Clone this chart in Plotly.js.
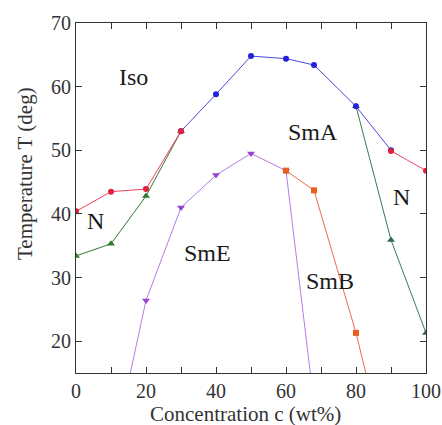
<!DOCTYPE html>
<html>
<head>
<meta charset="utf-8">
<script src="https://cdn.plot.ly/plotly-3.0.1.min.js"></script>
<style>html,body{margin:0;padding:0;background:#fff;}#chart{width:442px;height:425px;}</style>
</head>
<body>
<div id="chart"></div>
<script>
// Iso–SmA boundary (blue)
const isoSmA_x = [30, 40, 50, 60, 68, 80, 90];
const isoSmA_y = [53, 58.8, 64.8, 64.4, 63.4, 56.9, 50];
// Iso–N boundary, left (red)
const isoN_left_x = [0, 10, 20, 30];
const isoN_left_y = [40.4, 43.5, 43.9, 53];
// Iso–N boundary, right (red)
const isoN_right_x = [90, 100];
const isoN_right_y = [49.9, 46.8];
// N–Smectic boundary, left (green)
const nSm_left_x = [0, 10, 20, 30];
const nSm_left_y = [33.4, 35.3, 42.8, 53];
// N–SmA boundary, right (green)
const nSm_right_x = [80, 90, 100];
const nSm_right_y = [56.9, 35.9, 21.3];
// SmE boundary (purple)
const smE_x = [15, 20, 30, 40, 50, 60, 68];
const smE_y = [13.7, 26.4, 41, 46.1, 49.5, 46.8, 10.2];
// SmB boundary (orange)
const smB_x = [60, 68, 80, 85];
const smB_y = [46.8, 43.7, 21.3, 10.1];

const phaseLabels = ['Iso', 'SmA', 'N', 'SmE', 'SmB', 'N'];
const phaseX = [16.4, 67.7, 5.7, 37.7, 72.6, 92.9];
const phaseY = [61.5, 52.9, 38.9, 33.8, 29.4, 42.6];

const xTickVals = [0, 10, 20, 30, 40, 50, 60, 70, 80, 90, 100];
const xTickText = ['0', '', '20', '', '40', '', '60', '', '80', '', '100'];
const yTicks = [20, 30, 40, 50, 60, 70];

const xTitle = 'Concentration c (wt%)';
const yTitle = 'Temperature T (deg)';

function tr(x, y, color, lineColor, symbol, size) {
  return {x: x, y: y, type: 'scatter', mode: 'lines+markers', cliponaxis: true,
    line: {color: lineColor, width: 1}, marker: {color: color, symbol: symbol, size: size}, showlegend: false};
}

const data = [
  tr(nSm_left_x, nSm_left_y, '#2f7a2f', '#2f7a2f', 'triangle-up', 7),
  tr(nSm_right_x, nSm_right_y, '#2f6a4a', '#3a7a5a', 'triangle-up', 7),
  tr(smE_x, smE_y, '#9a44d0', '#b47ce8', 'triangle-down', 7),
  tr(smB_x, smB_y, '#e8601e', '#ec6a4a', 'square', 6),
  tr(isoSmA_x, isoSmA_y, '#2222d8', '#4848e0', 'circle', 6),
  tr(isoN_left_x, isoN_left_y, '#e0203c', '#f04060', 'circle', 6),
  tr(isoN_right_x, isoN_right_y, '#e0203c', '#f04060', 'circle', 6)
];

const serif = 'Liberation Serif, Times New Roman, serif';

const annotations = phaseLabels.map((t, i) => ({
  x: phaseX[i], y: phaseY[i], xref: 'x', yref: 'y', text: t, showarrow: false,
  font: {family: serif, size: 24, color: '#1a1a1a'}
}));
annotations.push({
  x: 0.483, y: -0.117, xref: 'paper', yref: 'paper', text: xTitle, showarrow: false,
  xanchor: 'center', yanchor: 'middle', font: {family: serif, size: 21, color: '#333'}
});
annotations.push({
  x: -0.146, y: 0.571, xref: 'paper', yref: 'paper', text: yTitle, showarrow: false, textangle: -90,
  xanchor: 'center', yanchor: 'middle', font: {family: serif, size: 21, color: '#333'}
});

const axisCommon = {
  showline: true, linecolor: '#333', linewidth: 1, mirror: 'ticks',
  ticks: 'inside', ticklen: 6, tickcolor: '#333', showgrid: false, zeroline: false,
  tickfont: {family: serif, size: 20, color: '#333'}
};

const layout = {
  width: 442, height: 425,
  margin: {l: 76, r: 16, t: 23, b: 52},
  paper_bgcolor: '#fff', plot_bgcolor: '#fff',
  xaxis: Object.assign({}, axisCommon, {range: [0, 100], tickvals: xTickVals, ticktext: xTickText}),
  yaxis: Object.assign({}, axisCommon, {range: [15, 70], tickvals: yTicks}),
  annotations: annotations
};

Plotly.newPlot('chart', data, layout, {displayModeBar: false, staticPlot: true});
</script>
</body>
</html>
